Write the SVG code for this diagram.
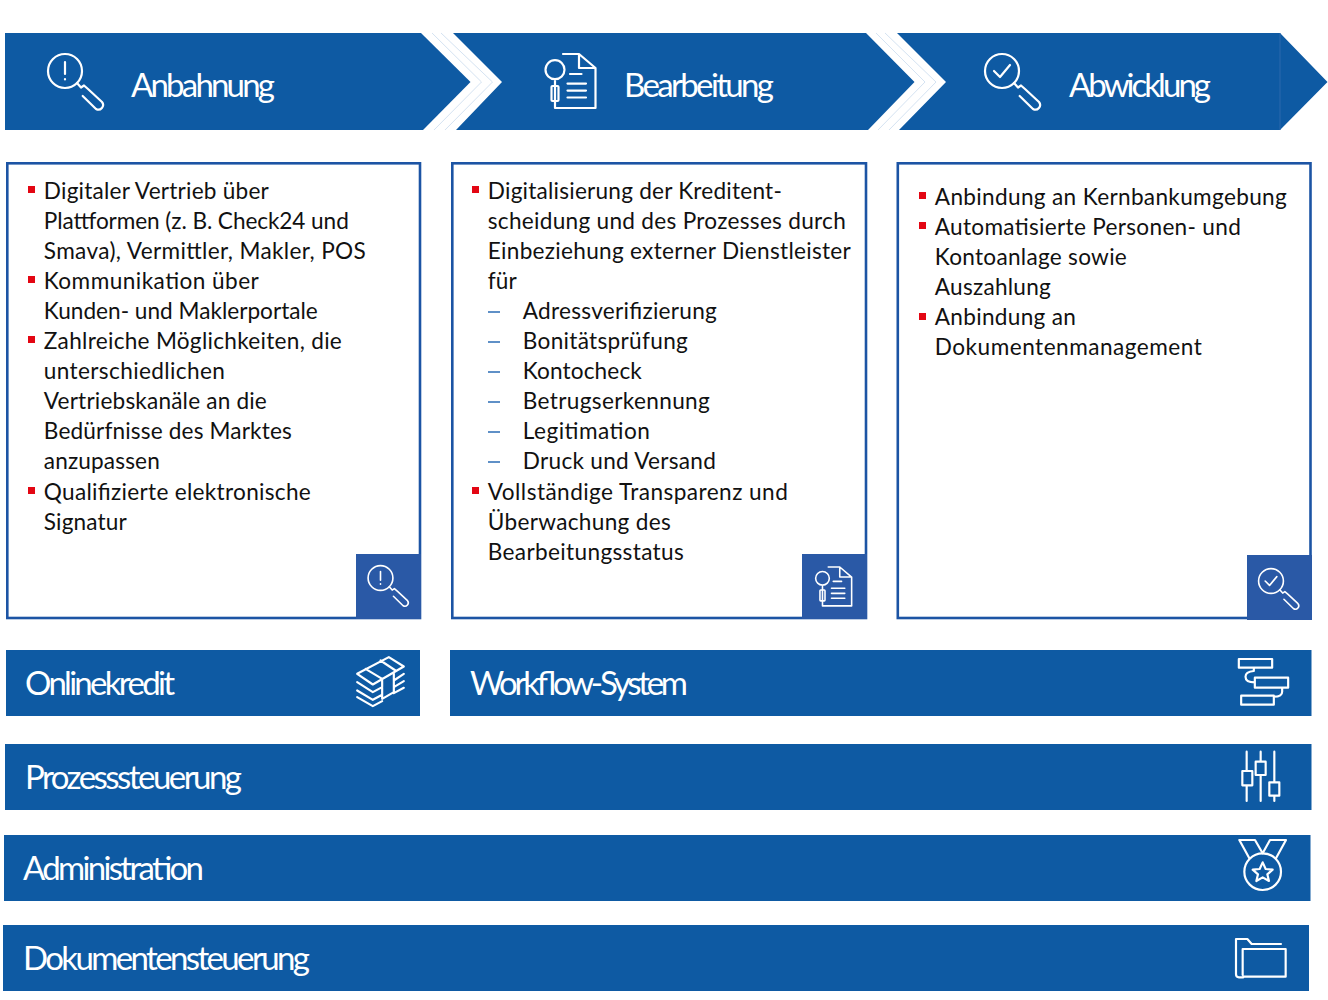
<svg xmlns="http://www.w3.org/2000/svg" width="1328" height="1000" viewBox="0 0 1328 1000">
<style>
.bar{fill:#0e5aa3}
.box{fill:#fff;stroke:#1c54a4;stroke-width:2.6}
.tile{fill:#2a59a6}
.h{font-family:Lato,"Open Sans",sans-serif;font-size:33px;fill:#fff}
.t{font-family:Lato,"Open Sans",sans-serif;font-size:22.6px;fill:#111;transform:translateX(-.2px)}
.b{fill:#e30613}
.d{stroke:#2b6cb5;stroke-width:1.3}
.i{fill:none;stroke:#fff;stroke-width:2.2;stroke-linecap:round;stroke-linejoin:round}
.z{fill:none;stroke:#fff;stroke-width:6.5;stroke-linecap:round;stroke-linejoin:round}
.g{fill:none;stroke:#d5e3f2;stroke-width:1}
.s{stroke:#2a68ad;stroke-width:1}
</style>
<defs>
<g id="mag"><circle r="17" class="i"/><path class="i" d="M12,12L16,16.500L19,14.500L23,18L37,31A4.700,4.700 0 0 1 31,38L17.700,25"/></g>
<g id="doc"><path class="i" d="M17,0H33L49.500,14V54H9V27M33,0V14H49.500M24,20H35.500M21.500,29.600H40M21.500,36.600H40M21.500,43.500H40"/><circle class="i" cx="9" cy="15.700" r="9.500"/><rect class="i" x="5.500" y="32" width="7" height="15" rx="1"/></g>
</defs>
<g id="chevrons">
<g id="anbahnung"><polygon class="bar" points="5,33 421,33 470.500,82 423,130 5,130"/><path class="g" d="M432,33L481.500,82L434,130M441,33L492.500,82L445,130"/><g transform="translate(65,71)"><use href="#mag"/><path class="i" d="M0,-9V3M0,8V8.500"/></g><text class="h" x="131" y="97" textLength="144">Anbahnung</text></g>
<g id="bearbeitung"><polygon class="bar" points="453,33 866,33 914.500,82 868,130 456,130 502,82"/><path class="g" d="M876,33L925,82L878,130M885,33L936,82L889,130"/><use href="#doc" transform="translate(546,54)"/><text class="h" x="624" y="97" textLength="150">Bearbeitung</text></g>
<g id="abwicklung"><polygon class="bar" points="897,33 1280,33 1327.500,82 1280,130 899,130 946,82"/><path class="s" d="M1280,33V130"/><g transform="translate(1002,71)"><use href="#mag"/><path class="i" d="M-8,0L-2,6L8,-6"/></g><text class="h" x="1069" y="97" textLength="142">Abwicklung</text></g>
</g>
<g id="box1"><rect class="box" x="7.300" y="163.300" width="412.700" height="454.700"/><rect class="tile" x="356" y="554" width="65" height="65"/><g transform="translate(380.500,578) scale(.73)"><use href="#mag"/><path class="i" d="M0,-9V3M0,8V8.500"/></g>
<rect class="b" x="28" y="186" width="7" height="7"/><rect class="b" x="28" y="276" width="7" height="7"/><rect class="b" x="28" y="336" width="7" height="7"/><rect class="b" x="28" y="487" width="7" height="7"/>
<text class="t" x="44" y="199" textLength="225">Digitaler Vertrieb über</text>
<text class="t" x="44" y="229" textLength="305">Plattformen (z. B. Check24 und</text>
<text class="t" x="44" y="259" textLength="322">Smava), Vermittler, Makler, POS</text>
<text class="t" x="44" y="289" textLength="215">Kommunikation über</text>
<text class="t" x="44" y="319" textLength="274">Kunden- und Maklerportale</text>
<text class="t" x="44" y="349" textLength="298">Zahlreiche Möglichkeiten, die</text>
<text class="t" x="44" y="379" textLength="181">unterschiedlichen</text>
<text class="t" x="44" y="409" textLength="223">Vertriebskanäle an die</text>
<text class="t" x="44" y="439" textLength="248">Bedürfnisse des Marktes</text>
<text class="t" x="44" y="469" textLength="116">anzupassen</text>
<text class="t" x="44" y="500" textLength="267">Qualifizierte elektronische</text>
<text class="t" x="44" y="530" textLength="83">Signatur</text></g>
<g id="box2"><rect class="box" x="452.300" y="163.300" width="413.700" height="454.700"/><rect class="tile" x="802" y="554" width="65" height="65"/><use href="#doc" transform="translate(816,567) scale(.72)"/>
<rect class="b" x="472" y="186" width="7" height="7"/><rect class="b" x="472" y="487" width="7" height="7"/>
<path class="d" d="M488,312H500M488,342H500M488,372H500M488,402H500M488,432H500M488,462H500"/>
<text class="t" x="488" y="199" textLength="294">Digitalisierung der Kreditent-</text>
<text class="t" x="488" y="229" textLength="358">scheidung und des Prozesses durch</text>
<text class="t" x="488" y="259" textLength="363">Einbeziehung externer Dienstleister</text>
<text class="t" x="488" y="289" textLength="29">für</text>
<text class="t" x="523" y="319" textLength="194">Adressverifizierung</text>
<text class="t" x="523" y="349" textLength="165">Bonitätsprüfung</text>
<text class="t" x="523" y="379" textLength="119">Kontocheck</text>
<text class="t" x="523" y="409" textLength="187">Betrugserkennung</text>
<text class="t" x="523" y="439" textLength="127">Legitimation</text>
<text class="t" x="523" y="469" textLength="193">Druck und Versand</text>
<text class="t" x="488" y="500" textLength="300">Vollständige Transparenz und</text>
<text class="t" x="488" y="530" textLength="183">Überwachung des</text>
<text class="t" x="488" y="560" textLength="196">Bearbeitungsstatus</text></g>
<g id="box3"><rect class="box" x="897.800" y="163.300" width="412.700" height="454.700"/><rect class="tile" x="1247" y="555" width="65" height="65"/><g transform="translate(1271,581) scale(.73)"><use href="#mag"/><path class="i" d="M-8,0L-2,6L8,-6"/></g>
<rect class="b" x="919" y="192" width="7" height="7"/><rect class="b" x="919" y="222" width="7" height="7"/><rect class="b" x="919" y="313" width="7" height="7"/>
<text class="t" x="935" y="205" textLength="352">Anbindung an Kernbankumgebung</text>
<text class="t" x="935" y="235" textLength="306">Automatisierte Personen- und</text>
<text class="t" x="935" y="265" textLength="192">Kontoanlage sowie</text>
<text class="t" x="935" y="295" textLength="116">Auszahlung</text>
<text class="t" x="935" y="325" textLength="141">Anbindung an</text>
<text class="t" x="935" y="355" textLength="267">Dokumentenmanagement</text></g>
<g id="onlinekredit"><rect class="bar" x="6" y="650" width="414" height="66"/><text class="h" x="25" y="695" textLength="150">Onlinekredit</text>
<path class="z" transform="translate(340.500,540.500) scale(.3333)" d="M50,400L145,350L190,378L97,432ZM75,385L125,415M120,360L165,390M50,425L97,455L125,440M50,450L97,478L125,463M50,470L97,497L125,482M160,420L190,400M160,440L190,422M160,458L190,442M125,420V475M160,398V455M125,475L160,455"/></g>
<g id="workflow"><rect class="bar" x="450" y="650" width="861.500" height="66"/><text class="h" x="470" y="695" textLength="218">Workflow-System</text>
<path class="z" transform="translate(1220.500,545) scale(.3333)" d="M55,342H155V368H55ZM103,398H203V428H103ZM62,452H160V479H62ZM100,368V378Q75,380 75,395Q75,412 103,412M185,428V440Q185,455 160,455"/></g>
<g id="prozess"><rect class="bar" x="5" y="744" width="1306.500" height="66"/><text class="h" x="25" y="789" textLength="217">Prozesssteuerung</text>
<path class="z" transform="translate(1220,545) scale(.3333)" d="M80,620V678M80,721V768M67,678H97V721H67ZM122,620V650M122,690V768M107,650H137V690H107ZM163,620V712M163,752V768M148,712H178V752H148Z"/></g>
<g id="administration"><rect class="bar" x="4" y="835" width="1306.500" height="66"/><text class="h" x="23" y="880" textLength="181">Administration</text>
<g transform="translate(1220,825) scale(.3333)"><path class="z" d="M88,100L58,45H105L128,85L150,45H198L168,100"/><circle class="z" cx="128" cy="140" r="55"/><path class="z" d="M128,112L137,132L158,134L142,148L147,168L128,157L109,168L114,148L98,134L119,132Z"/></g></g>
<g id="dokumenten"><rect class="bar" x="3" y="925" width="1306" height="66"/><text class="h" x="23" y="970" textLength="287">Dokumentensteuerung</text>
<path class="z" transform="translate(1220,825) scale(.3333)" d="M70,457H57Q48,457 48,448V342H82L95,357H183M68,450V372H197V455H70"/></g>
</svg>
